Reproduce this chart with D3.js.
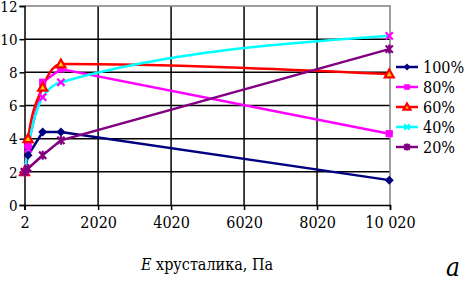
<!DOCTYPE html>
<html>
<head>
<meta charset="utf-8">
<script src="https://cdn.jsdelivr.net/npm/d3@7"></script>
<style>
  body { margin: 0; background: #fff; }
  svg text { font-family: "DejaVu Serif Condensed", "DejaVu Serif", serif; font-stretch: condensed; }
</style>
</head>
<body>
<svg id="chart" width="468" height="282"></svg>
<script>
// values
const xValues = [2, 100, 500, 1000, 10000];
const xTicks = [2, 2020, 4020, 6020, 8020, 10020];
const xTickLabels = ['2', '2020', '4020', '6020', '8020', '10 020'];
const yTicks = [0, 2, 4, 6, 8, 10, 12];
const seriesNames = ['100%', '80%', '60%', '40%', '20%'];
const s100 = [2.0, 3.0, 4.4, 4.4, 1.5];
const s80 = [2.0, 3.6, 7.4, 8.2, 4.3];
const s60 = [2.0, 4.0, 7.1, 8.5, 7.9];
const s40 = [2.0, 3.4, 6.5, 7.4, 10.2];
const s20 = [2.0, 2.2, 3.0, 3.9, 9.4];

const svg = d3.select('#chart');
const x = d3.scaleLinear().domain([2, 10020]).range([24.5, 390]);
const y = d3.scaleLinear().domain([0, 12]).range([205, 6]);

const series = [
  { name: seriesNames[0], vals: s100, color: '#000080', marker: 'diamond', smooth: false },
  { name: seriesNames[1], vals: s80, color: '#ff00ff', marker: 'square', smooth: false },
  { name: seriesNames[2], vals: s60, color: '#ff0000', marker: 'triangle', smooth: true },
  { name: seriesNames[3], vals: s40, color: '#00ffff', marker: 'cross', smooth: true },
  { name: seriesNames[4], vals: s20, color: '#800080', marker: 'star', smooth: false }
];

// grid
svg.append('g').selectAll('line').data(yTicks.filter(d => d > 0 && d < 12)).join('line')
  .attr('x1', x(2)).attr('x2', x(10020))
  .attr('y1', d => y(d)).attr('y2', d => y(d))
  .attr('stroke', '#000').attr('stroke-width', 1.5);
svg.append('g').selectAll('line').data(xTicks.slice(1, -1)).join('line')
  .attr('x1', d => x(d)).attr('x2', d => x(d))
  .attr('y1', y(0)).attr('y2', y(12))
  .attr('stroke', '#000').attr('stroke-width', 1.5);

// gray border top/right
svg.append('path')
  .attr('d', `M${x(2)},${y(12)}H${x(10020)}V${y(0)}`)
  .attr('fill', 'none').attr('stroke', '#808080').attr('stroke-width', 1.5);

// axes
const xAxis = svg.append('g').attr('transform', `translate(0,${y(0)})`)
  .call(d3.axisBottom(x).tickValues(xTicks).tickFormat((d, i) => xTickLabels[i]).tickSize(5).tickPadding(7));
const yAxis = svg.append('g').attr('transform', `translate(${x(2)},0)`)
  .call(d3.axisLeft(y).tickValues(yTicks).tickSize(5).tickPadding(2));
[xAxis, yAxis].forEach(a => {
  a.attr('font-family', null);
  a.select('.domain').attr('stroke', '#000').attr('stroke-width', 1.5);
  a.selectAll('.tick line').attr('stroke', '#000').attr('stroke-width', 1.5);
  a.selectAll('text').attr('font-size', 16).attr('fill', '#000');
});
yAxis.selectAll('text').attr('dy', '0.35em').attr('font-size', 15);

function marker(g, type, color, size) {
  const s = size;
  if (type === 'diamond') {
    g.append('path').attr('d', `M0,${-s}L${s},0L0,${s}L${-s},0Z`).attr('fill', color);
  } else if (type === 'square') {
    g.append('rect').attr('x', -s * 0.8).attr('y', -s * 0.8).attr('width', s * 1.6).attr('height', s * 1.6).attr('fill', color);
  } else if (type === 'triangle') {
    g.append('path').attr('d', `M0,${-s}L${s},${s * 0.75}L${-s},${s * 0.75}Z`)
      .attr('fill', '#ffcc00').attr('stroke', color).attr('stroke-width', 2.2);
  } else if (type === 'cross') {
    g.append('path').attr('d', `M${-s * 0.8},${-s * 0.8}L${s * 0.8},${s * 0.8}M${s * 0.8},${-s * 0.8}L${-s * 0.8},${s * 0.8}`)
      .attr('stroke', color).attr('stroke-width', 2.2);
  } else if (type === 'star') {
    g.append('path').attr('d', `M${-s * 0.8},${-s * 0.8}L${s * 0.8},${s * 0.8}M${s * 0.8},${-s * 0.8}L${-s * 0.8},${s * 0.8}M0,${-s}V${s}`)
      .attr('stroke', color).attr('stroke-width', 2.2);
  }
}

// lines
series.forEach(sr => {
  const pts = xValues.map((xv, i) => [xv, sr.vals[i]]);
  const line = d3.line().x(d => x(d[0])).y(d => y(d[1]))
    .curve(sr.smooth ? d3.curveMonotoneX : d3.curveLinear);
  svg.append('path').datum(pts).attr('d', line)
    .attr('fill', 'none').attr('stroke', sr.color).attr('stroke-width', 2.5);
});
// markers
series.forEach(sr => {
  const mColor = sr.marker === 'cross' ? '#ff00ff' : sr.color;
  xValues.forEach((xv, i) => {
    const g = svg.append('g').attr('transform', `translate(${x(xv)},${y(sr.vals[i])})`);
    marker(g, sr.marker, mColor, 4.5);
  });
});

// legend
const legend = svg.append('g');
series.forEach((sr, i) => {
  const ly = 67 + i * 20;
  legend.append('line').attr('x1', 396).attr('x2', 418).attr('y1', ly).attr('y2', ly)
    .attr('stroke', sr.color).attr('stroke-width', 2.5);
  const g = legend.append('g').attr('transform', `translate(407,${ly})`);
  marker(g, sr.marker, sr.color, 3.5);
  legend.append('text').attr('x', 423).attr('y', ly).attr('dy', '0.35em')
    .attr('font-size', 16).attr('fill', '#000').text(sr.name);
});

// axis title
const title = svg.append('text').attr('x', 207).attr('y', 270).attr('text-anchor', 'middle')
  .attr('font-size', 16).attr('fill', '#000');
title.append('tspan').attr('font-style', 'italic').text('E');
title.append('tspan').text(' хрусталика, Па');

svg.append('text').attr('x', 446).attr('y', 276).attr('font-size', 26)
  .attr('font-style', 'italic').attr('fill', '#000').text('a');
</script>
</body>
</html>
